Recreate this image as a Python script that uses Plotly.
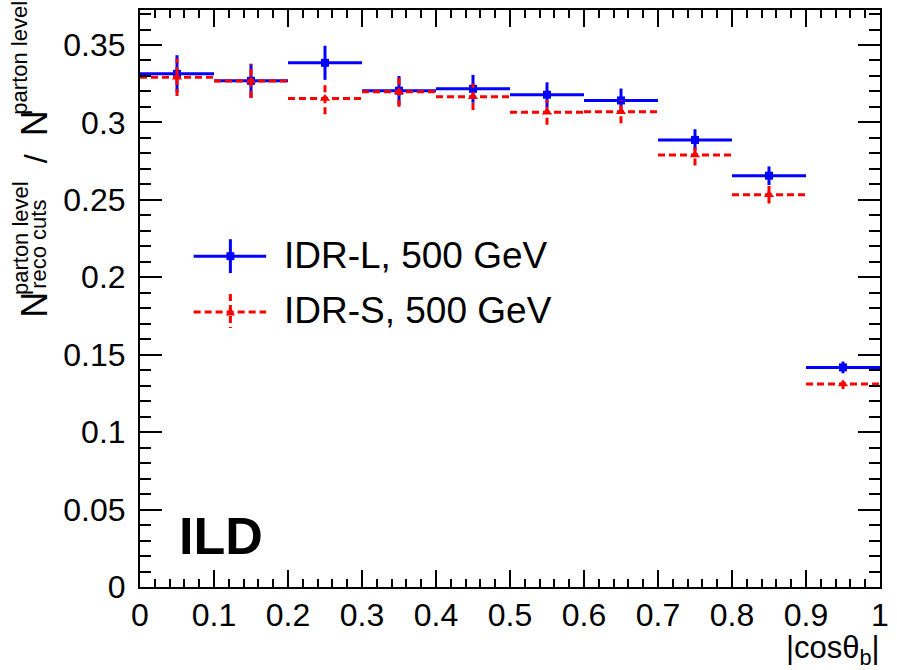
import plotly.graph_objects as go

# ---- data ----
bin_lo = [0.0, 0.1, 0.2, 0.3, 0.4, 0.5, 0.6, 0.7, 0.8, 0.9]
bin_hi = [0.1, 0.2, 0.3, 0.4, 0.5, 0.6, 0.7, 0.8, 0.9, 1.0]
idr_l_vals = [0.3314, 0.3269, 0.3385, 0.3205, 0.3217, 0.3179, 0.3142, 0.2887, 0.2656, 0.1418]
idr_l_errs = [0.0120, 0.0110, 0.0110, 0.0095, 0.0090, 0.0080, 0.0077, 0.0069, 0.0060, 0.0038]
idr_s_vals = [0.3291, 0.3267, 0.3155, 0.3198, 0.3166, 0.3065, 0.3069, 0.2789, 0.2533, 0.1311]
idr_s_errs = [0.0120, 0.0110, 0.0102, 0.0096, 0.0086, 0.0080, 0.0074, 0.0067, 0.0057, 0.0032]
x_ticks = [0, 0.1, 0.2, 0.3, 0.4, 0.5, 0.6, 0.7, 0.8, 0.9, 1.0]
y_ticks = [0, 0.05, 0.1, 0.15, 0.2, 0.25, 0.3, 0.35]

W, H = 897, 670
ML, MR, MT, MB = 140, 12, 8, 83
PW, PH = W - ML - MR, H - MT - MB
FONT = "Liberation Sans, Arial, Helvetica, sans-serif"
BLUE = "#0000ff"
RED = "#ff0000"
DASH = "7px,4px"


def px(xp):
    return (xp - ML) / PW


def py(yp):
    return (H - MB - yp) / PH


def segs(vals, errs):
    xs, ys = [], []
    for lo, hi, v, e in zip(bin_lo, bin_hi, vals, errs):
        c = 0.5 * (lo + hi)
        xs += [lo, hi, None, c, c, None]
        ys += [v, v, None, v - e, v + e, None]
    return xs, ys


centers = [0.5 * (a + b) for a, b in zip(bin_lo, bin_hi)]

fig = go.Figure()
bx, by = segs(idr_l_vals, idr_l_errs)
fig.add_trace(go.Scatter(x=bx, y=by, mode="lines", line=dict(color=BLUE, width=3),
                         showlegend=False, hoverinfo="skip"))
fig.add_trace(go.Scatter(x=centers, y=idr_l_vals, mode="markers", name="IDR-L, 500 GeV",
                         marker=dict(symbol="square", size=8, color=BLUE), showlegend=False))
rx, ry = segs(idr_s_vals, idr_s_errs)
fig.add_trace(go.Scatter(x=rx, y=ry, mode="lines", line=dict(color=RED, width=3, dash=DASH),
                         showlegend=False, hoverinfo="skip"))
fig.add_trace(go.Scatter(x=centers, y=idr_s_vals, mode="markers", name="IDR-S, 500 GeV",
                         marker=dict(symbol="triangle-up", size=9, color=RED), showlegend=False))

axis_common = dict(
    showline=True, linecolor="black", linewidth=2, mirror="allticks",
    ticks="inside", tickcolor="black", tickwidth=1.5,
    showgrid=False, zeroline=False,
    tickfont=dict(family=FONT, size=32, color="black"),
)
fig.update_xaxes(range=[0, 1], tickvals=x_ticks, ticklen=17,
                 minor=dict(dtick=0.02, ticklen=8, ticks="inside", tickcolor="black", tickwidth=1.5, showgrid=False),
                 ticklabelstandoff=-1, **axis_common)
fig.update_yaxes(range=[0, 0.3726], tickvals=y_ticks, ticklen=22,
                 minor=dict(dtick=0.01, ticklen=11, ticks="inside", tickcolor="black", tickwidth=1.5, showgrid=False),
                 ticklabelstandoff=6, **axis_common)

ann = []
# y-axis title pieces (rotated)
def rot(text, xp, yp, size):
    ann.append(dict(text=text, x=px(xp), y=py(yp), xref="paper", yref="paper",
                    xanchor="center", yanchor="middle", textangle=-90, showarrow=False,
                    font=dict(family=FONT, size=size, color="black")))

rot("N", 34, 304, 36)
rot("parton level", 19, 237, 22)
rot("reco cuts", 38, 243, 22)
rot("/", 36, 157, 32)
rot("N", 34, 122, 36)
rot("parton level", 19, 56, 22)

# x-axis title
ann.append(dict(text="|cosθ<sub>b</sub>|", x=px(887), y=py(650), xref="paper", yref="paper",
                xanchor="right", yanchor="middle", showarrow=False,
                font=dict(family=FONT, size=31, color="black")))
# ILD label
ann.append(dict(text="<b>ILD</b>", x=px(177), y=py(536), xref="paper", yref="paper",
                xanchor="left", yanchor="middle", showarrow=False,
                font=dict(family=FONT, size=52, color="black")))
# legend text
ann.append(dict(text="IDR-L, 500 GeV", x=px(283), y=py(254), xref="paper", yref="paper",
                xanchor="left", yanchor="middle", showarrow=False,
                font=dict(family=FONT, size=37, color="black")))
ann.append(dict(text="IDR-S, 500 GeV", x=px(283), y=py(310), xref="paper", yref="paper",
                xanchor="left", yanchor="middle", showarrow=False,
                font=dict(family=FONT, size=37, color="black")))

shapes = []
# legend symbols (decoration)
def seg(x0, y0, x1, y1, color, dash="solid"):
    shapes.append(dict(type="line", xref="paper", yref="paper", x0=px(x0), y0=py(y0),
                       x1=px(x1), y1=py(y1), line=dict(color=color, width=3, dash=dash)))

seg(194, 255, 267, 255, BLUE)
seg(231, 238, 231, 272, BLUE)
shapes.append(dict(type="rect", xref="paper", yref="paper", x0=px(227), y0=py(259), x1=px(235), y1=py(251),
                   fillcolor=BLUE, line=dict(width=0)))
seg(194, 311, 267, 311, RED, DASH)
seg(231, 293, 231, 327, RED, DASH)
shapes.append(dict(type="path", xref="paper", yref="paper",
                   path=f"M {px(226.5)} {py(314.5)} L {px(235.5)} {py(314.5)} L {px(231)} {py(306)} Z",
                   fillcolor=RED, line=dict(width=0)))

fig.update_layout(
    width=W, height=H, margin=dict(l=ML, r=MR, t=MT, b=MB),
    paper_bgcolor="white", plot_bgcolor="white",
    showlegend=False, annotations=ann, shapes=shapes,
    font=dict(family=FONT, color="black"),
)

fig.write_html("out.html")
